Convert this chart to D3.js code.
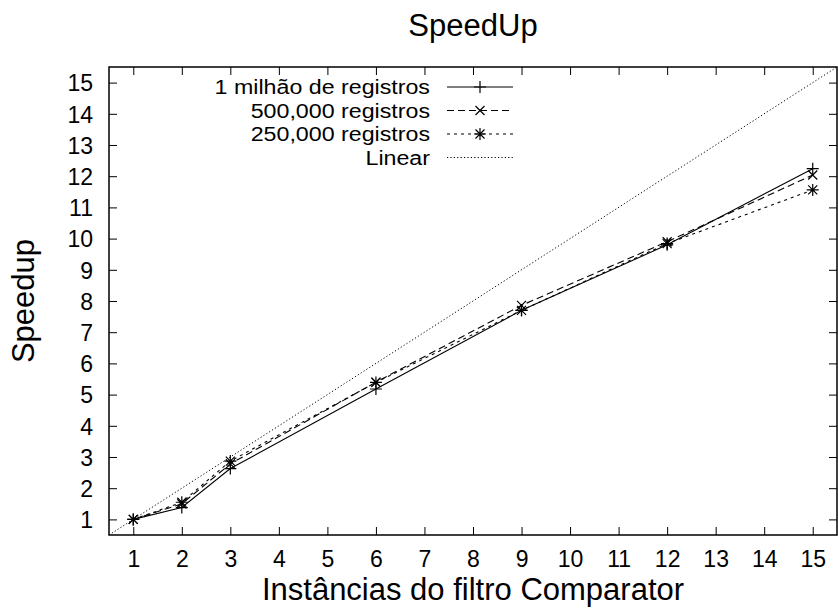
<!DOCTYPE html>
<html>
<head>
<meta charset="utf-8">
<script src="https://cdn.jsdelivr.net/npm/d3@7"></script>
<style>
  html, body { margin: 0; padding: 0; background: #fff; }
  text { font-family: "Liberation Sans", Arial, Helvetica, sans-serif; fill: #000; }
</style>
</head>
<body>
<svg id="chart" width="838" height="610"></svg>
<script>
// ---- data ----
const instances = [1, 2, 3, 6, 9, 12, 15];
const serieNames = ["1 milhão de registros", "500,000 registros", "250,000 registros", "Linear"];
const speedup1M   = [1.0, 1.38, 2.63, 5.18, 7.70, 9.80, 12.24];
const speedup500k = [1.0, 1.50, 2.78, 5.40, 7.86, 9.90, 12.04];
const speedup250k = [1.0, 1.55, 2.87, 5.39, 7.70, 9.84, 11.56];
const linearRange = [0.5, 15.5];
const xTicks = [1,2,3,4,5,6,7,8,9,10,11,12,13,14,15];
const yTicks = [1,2,3,4,5,6,7,8,9,10,11,12,13,14,15];
const titleText = "SpeedUp";
const xLabel = "Instâncias do filtro Comparator";
const yLabel = "Speedup";

// ---- layout ----
const L = 109, R = 837, T = 67, B = 535;
const svg = d3.select("#chart");
const x = d3.scaleLinear().domain([0.5, 15.5]).range([L, R]);
const y = d3.scaleLinear().domain([0.5, 15.5]).range([B, T]);
const tickLen = 8;
const FONT = '"Liberation Sans", Arial, sans-serif';

// axes with inward ticks, mirrored
const gx = svg.append("g").attr("transform", `translate(0,${B})`)
  .call(d3.axisBottom(x).tickValues(xTicks).tickSize(-tickLen).tickFormat(d3.format("d")));
const gxt = svg.append("g").attr("transform", `translate(0,${T})`)
  .call(d3.axisTop(x).tickValues(xTicks).tickSize(-tickLen).tickFormat(""));
const gy = svg.append("g").attr("transform", `translate(${L},0)`)
  .call(d3.axisLeft(y).tickValues(yTicks).tickSize(-tickLen).tickFormat(d3.format("d")));
const gyr = svg.append("g").attr("transform", `translate(${R},0)`)
  .call(d3.axisRight(y).tickValues(yTicks).tickSize(-tickLen).tickFormat(""));
[gx, gxt, gy, gyr].forEach(g => {
  g.select(".domain").remove();
  g.selectAll("line").attr("stroke", "#000").attr("stroke-width", 1);
  g.attr("font-size", 23).attr("font-family", FONT);
  g.selectAll("text").attr("fill", "#000");
});
gx.selectAll("text").attr("y", 0).attr("dy", 32);
gy.selectAll("text").attr("x", -16).attr("dy", "0.36em");

// frame
svg.append("rect").attr("x", L).attr("y", T).attr("width", R - L).attr("height", B - T)
  .attr("fill", "none").attr("stroke", "#000").attr("stroke-width", 1.5);

// titles
svg.append("text").attr("x", (L + R) / 2).attr("y", 36).attr("text-anchor", "middle")
  .attr("font-size", 31).text(titleText);
svg.append("text").attr("x", (L + R) / 2).attr("y", 600).attr("text-anchor", "middle")
  .attr("font-size", 31).text(xLabel);
svg.append("text").attr("transform", `translate(34,${(T + B) / 2}) rotate(-90)`)
  .attr("text-anchor", "middle").attr("font-size", 31).text(yLabel);

// clip
svg.append("clipPath").attr("id", "clip").append("rect")
  .attr("x", L).attr("y", T).attr("width", R - L).attr("height", B - T);

const line = d3.line().x(d => x(d[0])).y(d => y(d[1]));
const series = [
  { vals: speedup1M,   dash: null,  marker: "plus" },
  { vals: speedup500k, dash: "7,4", marker: "cross" },
  { vals: speedup250k, dash: "3,4", marker: "star" }
];

// linear
svg.append("path").attr("clip-path", "url(#clip)")
  .attr("d", line([[linearRange[0], linearRange[0]], [linearRange[1], linearRange[1]]]))
  .attr("fill", "none").attr("stroke", "#000").attr("stroke-width", 1).attr("stroke-dasharray", "1.2,2.2");

function drawMarker(g, type, cx, cy) {
  const s = 6;
  let d = "";
  if (type === "plus" || type === "star") d += `M${cx - s},${cy}H${cx + s}M${cx},${cy - s}V${cy + s}`;
  if (type === "cross" || type === "star") d += `M${cx - s * 0.75},${cy - s * 0.75}L${cx + s * 0.75},${cy + s * 0.75}M${cx - s * 0.75},${cy + s * 0.75}L${cx + s * 0.75},${cy - s * 0.75}`;
  g.append("path").attr("d", d).attr("stroke", "#000").attr("stroke-width", 1.2).attr("fill", "none");
}

series.forEach(s => {
  const pts = instances.map((v, i) => [v, s.vals[i]]);
  svg.append("path").attr("d", line(pts)).attr("fill", "none").attr("stroke", "#000")
    .attr("stroke-width", 1.1).attr("stroke-dasharray", s.dash);
  const g = svg.append("g");
  pts.forEach(p => drawMarker(g, s.marker, x(p[0]), y(p[1])));
});

// legend
const legX = 430, sx0 = 447, sx1 = 513, legY0 = 87, legDy = 23.5;
serieNames.forEach((name, i) => {
  const cy = legY0 + i * legDy;
  const t = svg.append("text").attr("x", legX).attr("y", cy).attr("dy", "0.36em")
    .attr("text-anchor", "end").attr("font-size", 20).text(name);
  const w = t.node().getComputedTextLength();
  t.attr("textLength", w * 1.16).attr("lengthAdjust", "spacingAndGlyphs");
  const dash = i < 3 ? series[i].dash : "1.2,2.2";
  svg.append("line").attr("x1", sx0).attr("x2", sx1).attr("y1", cy).attr("y2", cy)
    .attr("stroke", "#000").attr("stroke-width", 1.1).attr("stroke-dasharray", dash);
  if (i < 3) drawMarker(svg, series[i].marker, (sx0 + sx1) / 2, cy);
});
</script>
</body>
</html>
